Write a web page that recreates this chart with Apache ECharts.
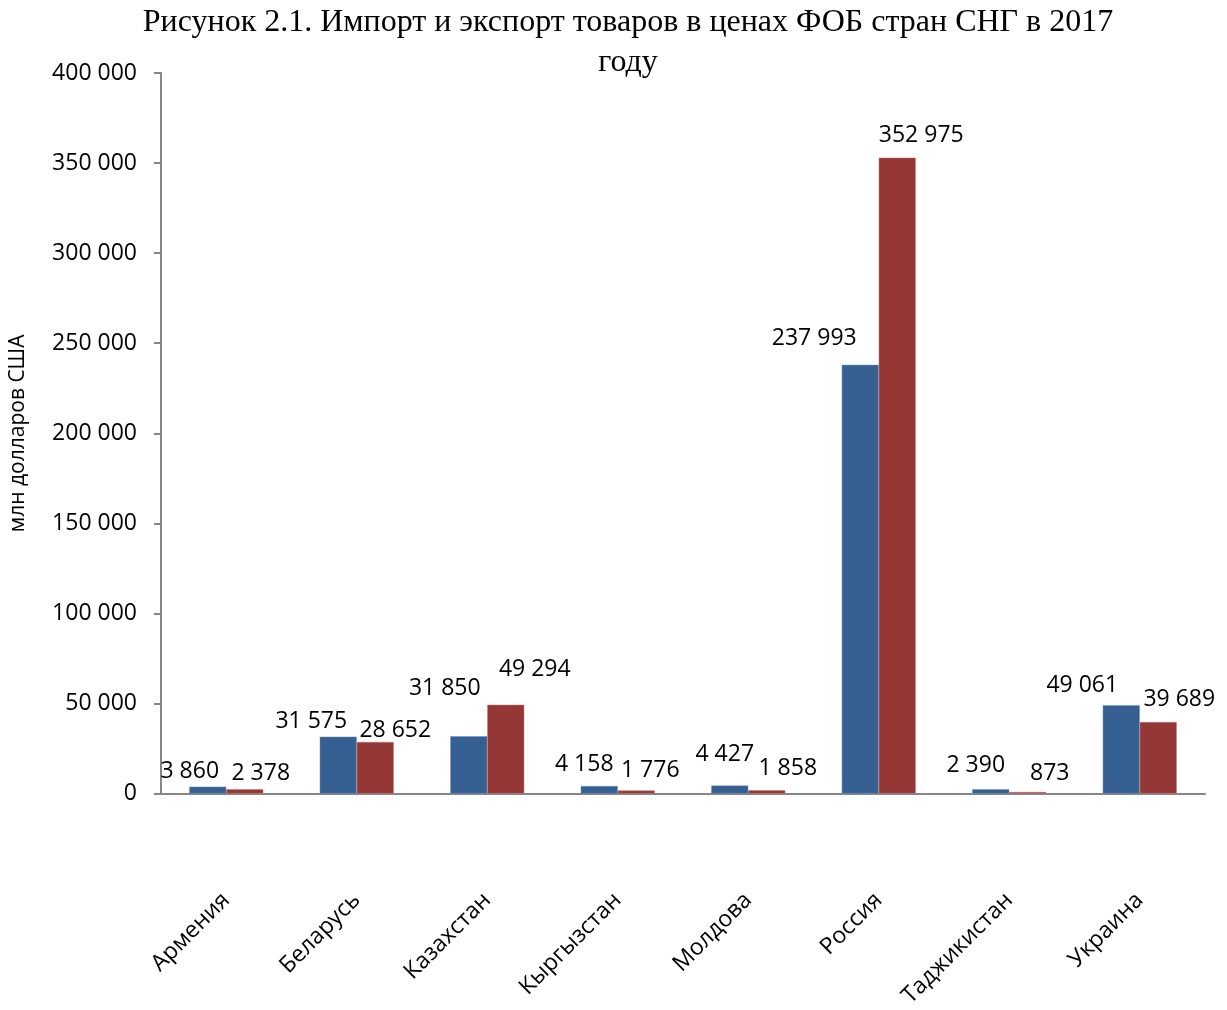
<!DOCTYPE html>
<html>
<head>
<meta charset="utf-8">
<script src="https://cdn.jsdelivr.net/npm/echarts@6/dist/echarts.min.js"></script>
<style>
  html, body { margin: 0; padding: 0; background: #fff; }
  #chart { width: 1227px; height: 1010px; }
</style>
</head>
<body>
<div id="chart"></div>
<script>
var countries = ['Армения', 'Беларусь', 'Казахстан', 'Кыргызстан', 'Молдова', 'Россия', 'Таджикистан', 'Украина'];
var importValues = [3860, 31575, 31850, 4158, 4427, 237993, 2390, 49061];
var exportValues = [2378, 28652, 49294, 1776, 1858, 352975, 873, 39689];
var yTicks = [0, 50000, 100000, 150000, 200000, 250000, 300000, 350000, 400000];

// label nudges (dx, dy) like the hand-placed labels of the original
var importLabelNudge = [[-18, 0], [-27, 0], [-24, -32], [-15, -6], [-5, -16], [-46, -11], [-15, -8], [-39, -4]];
var exportLabelNudge = [[16, 0], [20, 4], [29, -20], [14, -4], [21, -6], [24, -7], [22, -3], [21, -7]];

function fmt(v) {
    return String(v).replace(/\B(?=(\d{3})+(?!\d))/g, ' ');
}

function withNudge(values, nudges) {
    return values.map(function (v, i) {
        return { value: v, label: { offset: nudges[i] } };
    });
}

var labelFont = 'Open Sans';
var labelSize = 23;

var chart = echarts.init(document.getElementById('chart'));
var option = {
    backgroundColor: '#fff',
    animation: false,
    title: {
        text: 'Рисунок 2.1. Импорт и экспорт товаров в ценах ФОБ стран СНГ в 2017\nгоду',
        left: 628,
        top: 3,
        textAlign: 'center',
        padding: 0,
        textStyle: {
            fontFamily: 'Liberation Serif',
            fontSize: 32,
            fontWeight: 'normal',
            color: '#000',
            lineHeight: 40,
            align: 'center'
        }
    },
    grid: {
        left: 161,
        top: 73,
        right: 22,
        bottom: 214,
        containLabel: false
    },
    xAxis: {
        type: 'category',
        data: countries,
        axisLine: { lineStyle: { color: '#868686', width: 2 } },
        axisTick: { length: 8, lineStyle: { color: '#868686', width: 2 } },
        axisLabel: {
            rotate: 45,
            margin: 103,
            fontFamily: labelFont,
            fontSize: labelSize,
            color: '#000'
        }
    },
    yAxis: {
        type: 'value',
        min: yTicks[0],
        max: yTicks[yTicks.length - 1],
        interval: yTicks[1] - yTicks[0],
        name: 'млн долларов США',
        nameLocation: 'middle',
        nameGap: 132,
        nameTextStyle: {
            fontFamily: labelFont,
            fontSize: 21,
            color: '#000'
        },
        axisLine: { show: true, lineStyle: { color: '#868686', width: 2 } },
        axisTick: { show: true, length: 7, lineStyle: { color: '#868686', width: 2 } },
        splitLine: { show: false },
        axisLabel: {
            margin: 24,
            fontFamily: labelFont,
            fontSize: labelSize,
            color: '#000',
            formatter: function (v) { return fmt(v); }
        }
    },
    series: [
        {
            name: 'Импорт',
            type: 'bar',
            data: withNudge(importValues, importLabelNudge),
            barWidth: 37,
            barGap: '0%',
            itemStyle: { color: '#376092', borderColor: '#6f8fb8', borderWidth: 0.5 },
            label: {
                show: true,
                position: 'top',
                distance: 4,
                fontFamily: labelFont,
                fontSize: labelSize,
                color: '#000',
                formatter: function (p) { return fmt(p.value); }
            }
        },
        {
            name: 'Экспорт',
            type: 'bar',
            data: withNudge(exportValues, exportLabelNudge),
            barWidth: 37,
            barGap: '0%',
            itemStyle: { color: '#953735', borderColor: '#c07a78', borderWidth: 0.5 },
            label: {
                show: true,
                position: 'top',
                distance: 4,
                fontFamily: labelFont,
                fontSize: labelSize,
                color: '#000',
                formatter: function (p) { return fmt(p.value); }
            }
        }
    ]
};
chart.setOption(option);
</script>
</body>
</html>
